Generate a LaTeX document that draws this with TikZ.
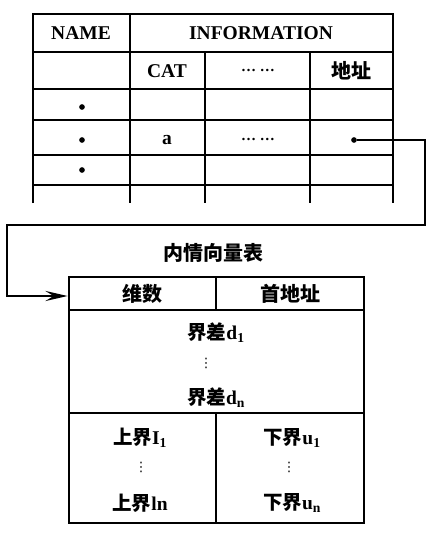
\documentclass[tikz,border=0pt]{standalone}
\usepackage{fontspec}
\setmainfont{Liberation Serif}
\newfontfamily\cjk{Noto Sans CJK SC}
\newfontfamily\sym{DejaVu Sans}
\usetikzlibrary{arrows.meta}

\tikzset{
	rule/.style={line width=2.8pt},
	cell/.style={draw,line width=2.8pt,inner sep=0pt},
	lbl/.style={font=\bfseries\fontsize{19.5}{22}\selectfont,inner sep=0pt},
	hz/.style={font=\cjk\bfseries\fontsize{20}{22}\selectfont,inner sep=0pt},
	small/.style={font=\bfseries\fontsize{15}{16}\selectfont,inner sep=0pt},
	vdot/.style={font=\sym\fontsize{13}{14}\selectfont,inner sep=0pt},
	dot/.style={circle,fill=black,inner sep=2pt},
}

\begin{document}
\begin{tikzpicture}[x=1pt,y=-1pt,>=Latex]
			\useasboundingbox (0,0) rectangle (438,540);
			
			% symbol table
			\draw[rule] (33,203) -- (33,14) -- (393,14) -- (393,203);
			\draw[rule] (130,14) -- (130,203);
			\draw[rule] (205,52) -- (205,203);
			\draw[rule] (310,52) -- (310,203);
			\foreach \y in {52,89,120,155,185}
				\draw[rule] (33,\y) -- (393,\y);
			
			\node[lbl] (name) at (81,33) {NAME};
			\node[lbl] (info) at (261,33) {INFORMATION};
			\node[lbl] (cat) at (167,71) {CAT};
			\node[small] (etc1) at (258,70) {\dots\ \dots};
			\node[hz] (addr) at (351,71) {地址};
			\node[dot] (n1) at (82,107) {};
			\node[dot] (n2) at (82,140) {};
			\node[dot] (n3) at (82,170) {};
			\node[lbl] (a) at (167,140) {a};
			\node[small] (etc2) at (258,139) {\dots\ \dots};
			\node[dot] (ptr) at (354,140) {};
			
			% dope vector
			\node[hz] (title) at (213,253) {内情向量表};
			\node[cell,minimum width=147pt,minimum height=33pt] (dims) at (142.5,293.5) {};
			\node[cell,minimum width=148pt,minimum height=33pt] (base) at (290,293.5) {};
			\node[cell,minimum width=295pt,minimum height=103pt] (diff) at (216.5,361.5) {};
			\node[cell,minimum width=147pt,minimum height=110pt] (low) at (142.5,468) {};
			\node[cell,minimum width=148pt,minimum height=110pt] (up) at (290,468) {};
			
			\node[hz] at (dims) {维数};
			\node[hz] at (base) {首地址};
			\node[lbl] (d1) at (216,333) {{\cjk 界差}d\textsubscript{1}};
			\node[vdot] (dv) at (206,363) {⋮};
			\node[lbl] (dn) at (216,398) {{\cjk 界差}d\textsubscript{n}};
			\node[lbl] (l1) at (140,438) {{\cjk 上界}I\textsubscript{1}};
			\node[vdot] (lv) at (141,467) {⋮};
			\node[lbl] (ln) at (140,503) {{\cjk 上界}ln};
			\node[lbl] (u1) at (292,438) {{\cjk 下界}u\textsubscript{1}};
			\node[vdot] (uv) at (289,467) {⋮};
			\node[lbl] (un) at (292,503) {{\cjk 下界}u\textsubscript{n}};
			
			\coordinate (c1) at (425,140);
			\coordinate (c2) at (425,225);
			\coordinate (c3) at (7,225);
			\coordinate (c4) at (7,296);
			\draw[rule,-{Stealth[length=22pt,width=10pt,inset=8pt]}] (ptr) -- (c1) -- (c2) -- (c3) -- (c4) -- (c4 -| dims.west);
		\end{tikzpicture}
\end{document}
